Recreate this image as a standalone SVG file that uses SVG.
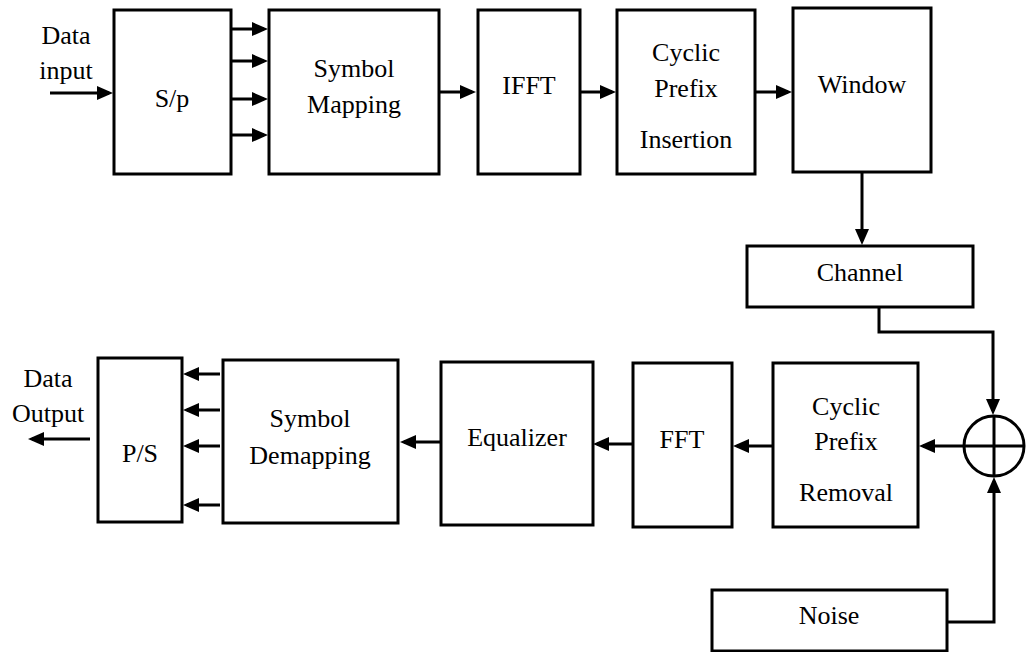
<svg xmlns="http://www.w3.org/2000/svg" width="1026" height="652" viewBox="0 0 1026 652">
<style>
.box{fill:#fff;stroke:#000;stroke-width:3}
.t{font-family:'Liberation Serif','DejaVu Serif',serif;font-size:26px;fill:#000;text-anchor:middle}
.c{fill:none;stroke:#000;stroke-width:3}
.a{marker-end:url(#ah)}
</style>
<defs>
<marker id="ah" markerUnits="userSpaceOnUse" markerWidth="18" markerHeight="16" refX="12" refY="7" orient="auto">
<path d="M0,0 L16,7 L0,14 Z" fill="#000"/>
</marker>
</defs>
<rect width="1026" height="652" fill="#fff"/>
<g id="connectors">
<line class="c a" x1="50" y1="93" x2="109" y2="93"/>
<line class="c a" x1="231" y1="29" x2="264" y2="29"/>
<line class="c a" x1="231" y1="61" x2="264" y2="61"/>
<line class="c a" x1="231" y1="99" x2="264" y2="99"/>
<line class="c a" x1="229" y1="135" x2="264" y2="135"/>
<line class="c a" x1="439" y1="92" x2="472" y2="92"/>
<line class="c a" x1="580" y1="92" x2="612" y2="92"/>
<line class="c a" x1="755" y1="92" x2="788" y2="92"/>
<line class="c a" x1="862" y1="172" x2="862" y2="241"/>
<path class="c a" d="M879,307 V332 H993 V411"/>
<path class="c a" d="M947,622 H994 V481"/>
<line class="c a" x1="964" y1="446" x2="923" y2="446"/>
<line class="c a" x1="773" y1="446" x2="737" y2="446"/>
<line class="c a" x1="633" y1="444" x2="597" y2="444"/>
<line class="c a" x1="441" y1="442" x2="404" y2="442"/>
<line class="c a" x1="220" y1="374" x2="187" y2="374"/>
<line class="c a" x1="220" y1="410" x2="187" y2="410"/>
<line class="c a" x1="220" y1="446" x2="187" y2="446"/>
<line class="c a" x1="220" y1="505" x2="187" y2="505"/>
<line class="c a" x1="90" y1="439" x2="32" y2="439"/>
</g>
<g id="data-input"><text class="t" x="66" y="44">Data</text><text class="t" x="66" y="79">input</text></g>
<g id="sp"><rect class="box" x="114" y="10" width="117" height="164"/><text class="t" x="172" y="107">S/p</text></g>
<g id="symbol-mapping"><rect class="box" x="269" y="10" width="170" height="164"/><text class="t" x="354" y="77">Symbol</text><text class="t" x="354" y="113">Mapping</text></g>
<g id="ifft"><rect class="box" x="478" y="10" width="102" height="164"/><text class="t" x="529" y="94">IFFT</text></g>
<g id="cp-insertion"><rect class="box" x="617" y="10" width="138" height="164"/><text class="t" x="686" y="61">Cyclic</text><text class="t" x="686" y="97">Prefix</text><text class="t" x="686" y="148">Insertion</text></g>
<g id="window"><rect class="box" x="793" y="8" width="138" height="164"/><text class="t" x="862" y="93">Window</text></g>
<g id="channel"><rect class="box" x="747" y="246" width="226" height="61"/><text class="t" x="860" y="281">Channel</text></g>
<g id="sum"><circle cx="994" cy="446" r="30" fill="#fff" stroke="#000" stroke-width="3"/><line class="c" x1="964" y1="446" x2="1024" y2="446"/><line class="c" x1="994" y1="416" x2="994" y2="476"/></g>
<g id="cp-removal"><rect class="box" x="773" y="363" width="145" height="164"/><text class="t" x="846" y="415">Cyclic</text><text class="t" x="846" y="450">Prefix</text><text class="t" x="846" y="501">Removal</text></g>
<g id="fft"><rect class="box" x="633" y="363" width="99" height="164"/><text class="t" x="682" y="448">FFT</text></g>
<g id="equalizer"><rect class="box" x="441" y="362" width="152" height="163"/><text class="t" x="517" y="446">Equalizer</text></g>
<g id="symbol-demapping"><rect class="box" x="223" y="360" width="175" height="163"/><text class="t" x="310" y="427">Symbol</text><text class="t" x="310" y="464">Demapping</text></g>
<g id="ps"><rect class="box" x="98" y="358" width="84" height="164"/><text class="t" x="140" y="462">P/S</text></g>
<g id="data-output"><text class="t" x="48" y="387">Data</text><text class="t" x="48" y="422">Output</text></g>
<g id="noise"><rect class="box" x="712" y="590" width="235" height="61"/><text class="t" x="829" y="624">Noise</text></g>
</svg>
